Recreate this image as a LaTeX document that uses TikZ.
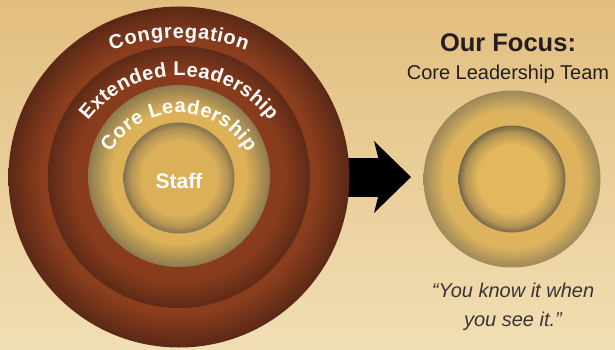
\documentclass[tikz,border=0pt]{standalone}
\usepackage{fontspec}
\setmainfont{Liberation Sans}
\usepackage{xcolor}
\usetikzlibrary{arrows.meta,positioning,decorations.text}

\definecolor{bgtop}{HTML}{E2BE7E}
\definecolor{bgbot}{HTML}{F1DEB4}
\definecolor{congin}{HTML}{8B3E1D}
\definecolor{congout}{HTML}{5A2816}
\definecolor{extin}{HTML}{883C1C}
\definecolor{extout}{HTML}{5E2A17}
\definecolor{corein}{HTML}{DCB157}
\definecolor{coreout}{HTML}{8D7B4F}
\definecolor{staffin}{HTML}{DAB058}
\definecolor{staffout}{HTML}{847250}
\definecolor{focusin}{HTML}{DDB45D}
\definecolor{focusout}{HTML}{9D8859}
\definecolor{heartin}{HTML}{E2B85D}
\definecolor{heartout}{HTML}{76664A}
\definecolor{inktext}{HTML}{231F20}

% circle edge sits at 25bp of the shading
\pgfdeclareradialshading{congshade}{\pgfpointorigin}{color(0bp)=(congin); color(20bp)=(congin); color(25bp)=(congout); color(50bp)=(congout)}
\pgfdeclareradialshading{extshade}{\pgfpointorigin}{color(0bp)=(extin); color(20bp)=(extin); color(25bp)=(extout); color(50bp)=(extout)}
\pgfdeclareradialshading{coreshade}{\pgfpointorigin}{color(0bp)=(corein); color(18.5bp)=(corein); color(25bp)=(coreout); color(50bp)=(coreout)}
\pgfdeclareradialshading{staffshade}{\pgfpointorigin}{color(0bp)=(staffin); color(17bp)=(staffin); color(22bp)=(staffin!55!staffout); color(25bp)=(staffout); color(50bp)=(staffout)}
\pgfdeclareradialshading{focusshade}{\pgfpointorigin}{color(0bp)=(focusin); color(19.5bp)=(focusin); color(25bp)=(focusout); color(50bp)=(focusout)}
\pgfdeclareradialshading{heartshade}{\pgfpointorigin}{color(0bp)=(heartin); color(16bp)=(heartin); color(22bp)=(heartin!55!heartout); color(25bp)=(heartout); color(50bp)=(heartout)}

\begin{document}
\begin{tikzpicture}[
    x=1pt, y=1pt,
    ring/.style={circle, inner sep=0pt, minimum size=#1},
    ringlabel/.style={text=white, font=\bfseries\fontsize{21}{21}\selectfont},
    arctext/.style={decorate, decoration={text effects along path, text={#1},
        text effects/.cd, text along path, fit text to path,
        characters={text=white, inner sep=0pt, font=\bfseries\fontsize{20}{20}\selectfont}}},
    title/.style={text=inktext, font=\bfseries\fontsize{25.5}{25.5}\selectfont},
    subtitle/.style={text=inktext, font=\fontsize{20}{20}\selectfont},
    quote/.style={text=inktext!90, align=center, font=\itshape\fontsize{20}{29}\selectfont},
    bigarrow/.style={line width=39pt, -{Stealth[length=37pt, width=72pt, inset=9pt, line width=0pt]}}
]

% Background
\useasboundingbox (0,0) rectangle (615,349);
\fill[top color=bgtop, bottom color=bgbot] (0,0) rectangle (615,349);

% Arrow
\coordinate (arrowtip) at (411,172);
\draw[bigarrow] (179,172) -- (arrowtip);

% Circles of involvement
\node[ring=341pt, shading=congshade] (congregation) at (179,172) {};
\node[ring=262pt, shading=extshade] (extended) at (179,172) {};
\node[ring=182pt, shading=coreshade] (core) at (179,173) {};
\node[ring=111pt, shading=staffshade] (staff) at (179,171) {};

% Ring labels
\coordinate (congarc) at ([yshift=-51pt]congregation.center);
\coordinate (extarc) at ([yshift=-13.5pt]extended.center);
\coordinate (corearc) at ([yshift=-16pt]core.center);
\path[arctext=Congregation] ([shift={(110.8:190)}]congarc) arc[start angle=110.8, end angle=69.2, radius=190];
\path[arctext=Extended Leadership] ([shift={(142.6:114.5)}]extarc) arc[start angle=142.6, end angle=37.4, radius=114.5];
\path[arctext=Core Leadership] ([shift={(150:79)}]corearc) arc[start angle=150, end angle=30, radius=79];
\node[ringlabel] (stafflabel) at ([yshift=-3pt]staff.center) {Staff};

% Focus
\node[ring=177pt, shading=focusshade] (focus) at (512,170) {};
\node[ring=107pt, shading=heartshade] (heart) at (512,170) {};
\node[title] (focustitle) at (508,306) {Our Focus:};
\node[subtitle] (focussub) at (508,275) {Core Leadership Team};
\node[quote] (saying) at (513,42) {``You know it when\\you see it.''};

\end{tikzpicture}
\end{document}
